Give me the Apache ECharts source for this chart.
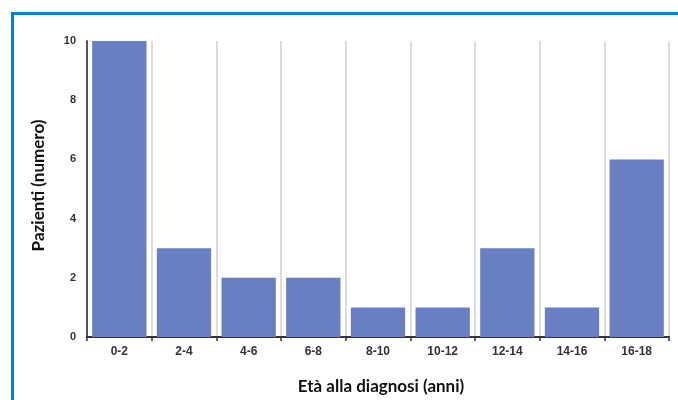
<!DOCTYPE html>
<html>
<head>
<meta charset="utf-8">
<script src="https://cdn.jsdelivr.net/npm/echarts@6/dist/echarts.min.js"></script>
<style>html,body{margin:0;padding:0;background:#fff;}#c{width:678px;height:400px;}</style>
</head>
<body>
<div id="c"></div>
<script>
var categories = ['0-2','2-4','4-6','6-8','8-10','10-12','12-14','14-16','16-18'];
var values = [10, 3, 2, 2, 1, 1, 3, 1, 6];
var yTicks = [0, 2, 4, 6, 8, 10];

var chart = echarts.init(document.getElementById('c'), null, {renderer: 'canvas'});
chart.setOption({
  animation: false,
  backgroundColor: '#ffffff',
  graphic: [{
    type: 'rect',
    shape: {x: 12.5, y: 13.5, width: 700, height: 420},
    style: {fill: 'none', stroke: '#0a80d0', lineWidth: 3}
  }],
  grid: {left: 87, top: 41, right: 9, bottom: 62, containLabel: false},
  xAxis: {
    type: 'category',
    data: categories,
    name: 'Età alla diagnosi (anni)',
    nameLocation: 'middle',
    nameGap: 41,
    nameTextStyle: {fontFamily: 'Lato', fontWeight: 'bold', fontSize: 17, color: '#111', padding: [0, 0, 0, 6]},
    axisLine: {lineStyle: {color: '#333', width: 2}},
    axisTick: {show: true, length: 4, lineStyle: {color: '#333', width: 1.5}},
    axisLabel: {fontFamily: 'Liberation Sans', fontWeight: 'bold', fontSize: 12, color: '#333', margin: 9},
    splitLine: {show: true, lineStyle: {color: '#dcdcdc', width: 2}}
  },
  yAxis: {
    type: 'value',
    min: 0, max: 10, interval: 2,
    name: 'Pazienti (numero)',
    nameLocation: 'middle',
    nameGap: 40,
    nameTextStyle: {fontFamily: 'Lato', fontWeight: 'bold', fontSize: 17, color: '#111', padding: [0, 0, 0, 7]},
    axisLine: {show: true, lineStyle: {color: '#555', width: 2}},
    axisTick: {show: false},
    axisLabel: {fontFamily: 'Liberation Sans', fontWeight: 'bold', fontSize: 11, color: '#333', margin: 11,
      formatter: function (v) { return yTicks.indexOf(v) >= 0 ? String(v) : ''; }},
    splitLine: {show: false}
  },
  series: [{
    type: 'bar',
    data: values,
    barCategoryGap: '16%',
    itemStyle: {color: '#6a7fc1'}
  }]
});
</script>
</body>
</html>
